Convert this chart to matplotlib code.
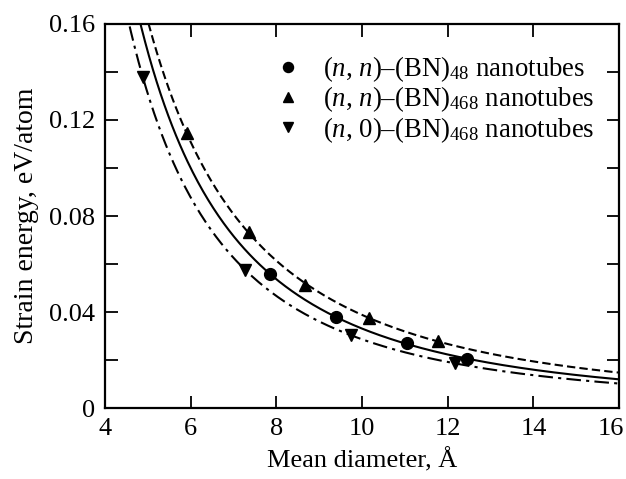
import numpy as np
import matplotlib
matplotlib.use("Agg")
from matplotlib import pyplot as plt
from matplotlib import transforms

plt.rcParams['font.family'] = 'Liberation Serif'
plt.rcParams['mathtext.fontset'] = 'custom'
plt.rcParams['mathtext.rm'] = 'Liberation Serif'
plt.rcParams['mathtext.it'] = 'Liberation Serif:italic'

# strain energy vs mean tube diameter
d_nn48 = [7.84, 9.39, 11.04, 12.46]
e_nn48 = [0.0557, 0.0380, 0.0272, 0.0203]

d_nn468 = [5.91, 7.35, 8.67, 10.15, 11.78]
e_nn468 = [0.1145, 0.0735, 0.0513, 0.0374, 0.0280]

d_n0468 = [4.88, 7.27, 9.74, 12.17]
e_n0468 = [0.1378, 0.0575, 0.0304, 0.0186]

labels = [r"($\mathit{n}$, $\mathit{n}$)–(BN)$_{48}$ nanotubes",
          r"($\mathit{n}$, $\mathit{n}$)–(BN)$_{468}$ nanotubes",
          r"($\mathit{n}$, 0)–(BN)$_{468}$ nanotubes"]


def powerfit(d, e, grid):
	# E = C * d^-p, least squares in log-log space
	p = np.polyfit(np.log(d), np.log(e), 1)
	return np.exp(np.polyval(p, np.log(grid)))


fig = plt.figure(figsize=(6.26, 4.79), dpi=100)
ax = fig.add_axes([0.168, 0.148, 0.821, 0.802])

grid = np.linspace(4.0, 16.0, 400)
ax.plot(grid, powerfit(d_nn48, e_nn48, grid), 'k-', lw=1.5)
ax.plot(grid, powerfit(d_nn468, e_nn468, grid), 'k', lw=1.5, dashes=(4, 2))
ax.plot(grid, powerfit(d_n0468, e_n0468, grid), 'k', lw=1.5, dashes=(7, 2.5, 1.5, 2.5))

ax.plot(d_nn48, e_nn48, 'ko', ms=8.5, ls='none', label=labels[0])
ax.plot(d_nn468, e_nn468, 'k^', ms=8.5, ls='none', label=labels[1])
ax.plot(d_n0468, e_n0468, 'kv', ms=8.5, ls='none', label=labels[2])

ax.set_xlim(4, 16)
ax.set_ylim(0, 0.16)
ax.set_xticks(np.arange(4, 17, 2))
ax.set_yticks([0, 0.04, 0.08, 0.12, 0.16])
ax.set_yticklabels(['0', '0.04', '0.08', '0.12', '0.16'])
ax.set_yticks(np.arange(0.02, 0.16, 0.04), minor=True)
ax.tick_params(which='both', direction='in', top=True, right=True, labelsize=19, width=1.3, length=9, pad=7)
for sp in ax.spines.values():
	sp.set_linewidth(1.6)

# pull the last x label in so it stays on the canvas
fig.canvas.draw()
last = ax.get_xticklabels()[-1]
last.set_transform(last.get_transform() + transforms.ScaledTranslation(-0.08, 0, fig.dpi_scale_trans))

ax.set_xlabel("Mean diameter, Å", fontsize=19, labelpad=6)
ax.set_ylabel("Strain energy, eV/atom", fontsize=20, labelpad=7)

ax.legend(loc='upper right', frameon=False, fontsize=19.3, handlelength=0.6,
	handletextpad=1.0, labelspacing=0.02, markerscale=0.85,
	borderpad=0.2, borderaxespad=0, bbox_to_anchor=(0.962, 0.935))

fig.savefig("out.png", dpi=100)
